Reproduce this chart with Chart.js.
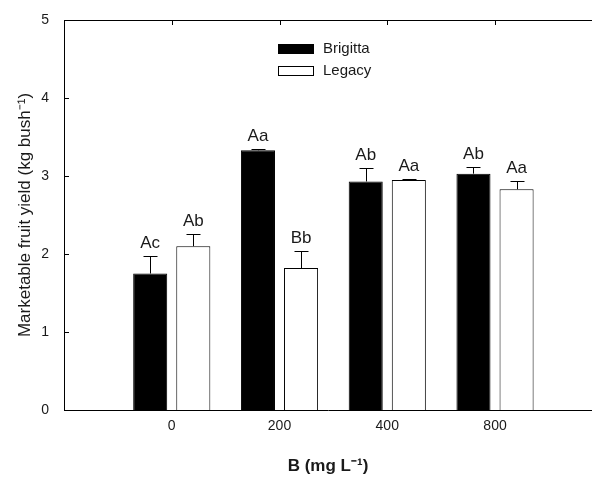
<!DOCTYPE html>
<html>
<head>
<meta charset="utf-8">
<script src="https://cdn.jsdelivr.net/npm/chart.js@4/dist/chart.umd.min.js"></script>
<style>
  html, body { margin: 0; padding: 0; background: #fff; }
  canvas { display: block; }
</style>
</head>
<body>
<canvas id="c" width="592" height="477"></canvas>
<script>
// ---- data ----
const categories = ['0', '200', '400', '800'];
const categoryPos = [1, 2, 3, 4];
const seriesNames = ['Brigitta', 'Legacy'];
const brigitta = [1.75, 3.33, 2.93, 3.03];
const brigittaErr = [0.22, 0.01, 0.17, 0.09];
const brigittaLetters = ['Ac', 'Aa', 'Ab', 'Ab'];
const legacy = [2.10, 1.82, 2.95, 2.83];
const legacyErr = [0.16, 0.22, 0.01, 0.11];
const legacyLetters = ['Ab', 'Bb', 'Aa', 'Aa'];
const yTicks = [0, 1, 2, 3, 4, 5];

const FONT = "'Liberation Sans', Arial, sans-serif";
const TXT = '#1a1a1a';

const errs = [brigittaErr, legacyErr];
const letters = [brigittaLetters, legacyLetters];

const extras = {
  id: 'extras',
  afterDatasetsDraw(chart) {
    const ctx = chart.ctx;
    const y = chart.scales.y;
    const x = chart.scales.x;
    const ca = chart.chartArea;
    ctx.save();
    ctx.strokeStyle = '#000';
    ctx.lineWidth = 1;
    // frame top line
    ctx.beginPath();
    ctx.moveTo(ca.left, Math.round(ca.top) + 0.5);
    ctx.lineTo(ca.right, Math.round(ca.top) + 0.5);
    ctx.stroke();
    // inward ticks: left axis
    yTicks.forEach(v => {
      const py = Math.round(y.getPixelForValue(v)) + 0.5;
      ctx.beginPath();
      ctx.moveTo(ca.left, py);
      ctx.lineTo(ca.left + 5, py);
      ctx.stroke();
    });
    // inward ticks: top axis
    categoryPos.forEach(v => {
      const px = Math.round(x.getPixelForValue(v)) + 0.5;
      ctx.beginPath();
      ctx.moveTo(px, ca.top);
      ctx.lineTo(px, ca.top + 5);
      ctx.stroke();
    });
    // error bars + letters
    chart.data.datasets.forEach((ds, di) => {
      const meta = chart.getDatasetMeta(di);
      meta.data.forEach((bar, i) => {
        const v = ds.data[i].y;
        const top = y.getPixelForValue(v);
        const capY = y.getPixelForValue(v + errs[di][i]);
        const bx = Math.round(bar.x) + 0.5;
        ctx.strokeStyle = '#000';
        ctx.lineWidth = 1;
        ctx.beginPath();
        ctx.moveTo(bx, top);
        ctx.lineTo(bx, Math.round(capY) + 0.5);
        ctx.moveTo(bx - 7, Math.round(capY) + 0.5);
        ctx.lineTo(bx + 7, Math.round(capY) + 0.5);
        ctx.stroke();
        ctx.fillStyle = TXT;
        ctx.font = '17px ' + FONT;
        ctx.textAlign = 'center';
        ctx.textBaseline = 'alphabetic';
        ctx.fillText(letters[di][i], bar.x, capY - 8);
      });
    });
    // legend (inside plot)
    const lx = 278, ly = [44, 66];
    chart.data.datasets.forEach((ds, di) => {
      ctx.fillStyle = ds.backgroundColor;
      ctx.fillRect(lx, ly[di], 36, 10);
      ctx.strokeStyle = '#000';
      ctx.strokeRect(lx + 0.5, ly[di] + 0.5, 35, 9);
      ctx.fillStyle = TXT;
      ctx.font = '15px ' + FONT;
      ctx.textAlign = 'left';
      ctx.textBaseline = 'middle';
      ctx.fillText(ds.label, 323, ly[di] + 5);
    });
    ctx.restore();
  }
};

new Chart(document.getElementById('c'), {
  type: 'bar',
  data: {
    datasets: [
      {
        label: seriesNames[0],
        data: categoryPos.map((p, i) => ({ x: p, y: brigitta[i] })),
        backgroundColor: '#000000',
        borderColor: '#000000',
        borderWidth: 1,
        categoryPercentage: 0.8,
        barPercentage: 0.79
      },
      {
        label: seriesNames[1],
        data: categoryPos.map((p, i) => ({ x: p, y: legacy[i] })),
        backgroundColor: '#ffffff',
        borderColor: '#000000',
        borderWidth: 1,
        categoryPercentage: 0.8,
        barPercentage: 0.79
      }
    ]
  },
  options: {
    responsive: false,
    animation: false,
    devicePixelRatio: 1,
    layout: { padding: { left: 0, right: 0, top: 20, bottom: 0 } },
    plugins: { legend: { display: false }, tooltip: { enabled: false } },
    scales: {
      x: {
        type: 'linear',
        min: 0,
        max: 4.9,
        offset: false,
        grid: { display: false, drawTicks: false, offset: false },
        border: { display: true, color: '#000', width: 1 },
        afterBuildTicks: s => { s.ticks = categoryPos.map(v => ({ value: v })); },
        afterFit: s => { s.height = 67; s.paddingLeft = 0; s.paddingRight = 0; },
        ticks: {
          padding: 8,
          color: TXT,
          font: { family: FONT, size: 14 },
          callback: (v, i) => categories[i]
        },
        title: {
          display: true,
          text: 'B (mg L\u207B\u00B9)',
          color: TXT,
          font: { family: FONT, size: 17, weight: 'bold' },
          padding: { top: 0, bottom: 0 }
        }
      },
      y: {
        min: 0,
        max: 5,
        grid: { display: false, drawTicks: false },
        border: { display: true, color: '#000', width: 1 },
        afterBuildTicks: s => { s.ticks = yTicks.map(v => ({ value: v })); },
        afterFit: s => { s.width = 64; s.paddingTop = 0; s.paddingBottom = 0; },
        ticks: {
          padding: 15,
          color: TXT,
          font: { family: FONT, size: 14 }
        },
        title: {
          display: true,
          text: 'Marketable fruit yield (kg bush\u207B\u00B9)',
          color: TXT,
          font: { family: FONT, size: 17 },
          padding: { top: 15, bottom: 0 }
        }
      }
    }
  },
  plugins: [extras]
});
</script>
</body>
</html>
